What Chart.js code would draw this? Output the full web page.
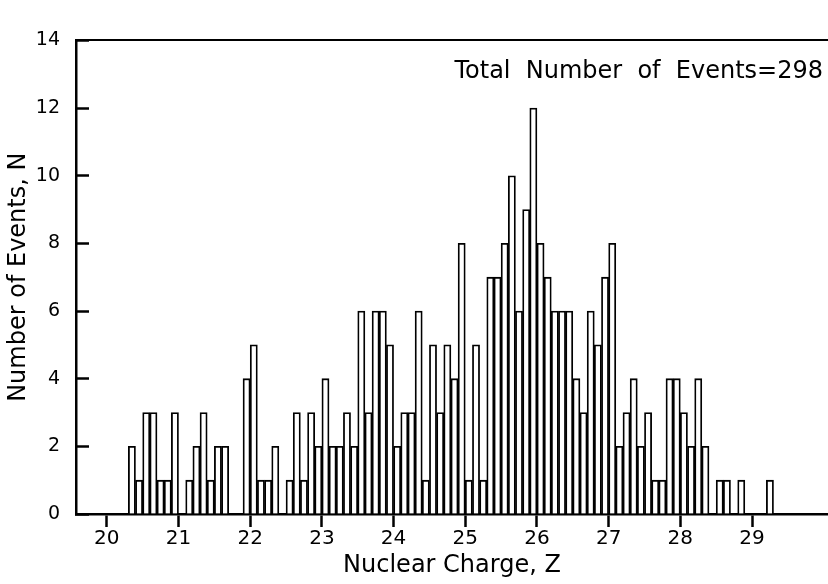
<!DOCTYPE html>
<html lang="en">
<head>
    <meta charset="UTF-8">
    <title>Nuclear Charge Histogram</title>
    <script src="https://cdn.jsdelivr.net/npm/chart.js"></script>
    <style>
        html, body { margin:0; padding:0; background:#fff; }
        #wrap { width:828px; height:584px; position:relative; }
    </style>
</head>
<body>

<div id="wrap">
    <canvas id="zChart"></canvas>
</div>

<script>
// lower edge of each 0.1-wide charge bin (empty bins left out)
const zLow = [
  20.3, 20.4, 20.5, 20.6, 20.7, 20.8, 20.9,
  21.1, 21.2, 21.3, 21.4, 21.5, 21.6,
  21.9,
  22.0, 22.1, 22.2, 22.3,
  22.5, 22.6, 22.7, 22.8, 22.9,
  23.0, 23.1, 23.2, 23.3, 23.4, 23.5, 23.6, 23.7, 23.8, 23.9,
  24.0, 24.1, 24.2, 24.3, 24.4, 24.5, 24.6, 24.7, 24.8, 24.9,
  25.0, 25.1, 25.2, 25.3, 25.4, 25.5, 25.6, 25.7, 25.8, 25.9,
  26.0, 26.1, 26.2, 26.3, 26.4, 26.5, 26.6, 26.7, 26.8, 26.9,
  27.0, 27.1, 27.2, 27.3, 27.4, 27.5, 27.6, 27.7, 27.8, 27.9,
  28.0, 28.1, 28.2, 28.3,
  28.5, 28.6,
  28.8,
  29.2
];
const events = [
  2, 1, 3, 3, 1, 1, 3,
  1, 2, 3, 1, 2, 2,
  4,
  5, 1, 1, 2,
  1, 3, 1, 3, 2,
  4, 2, 2, 3, 2, 6, 3, 6, 6, 5,
  2, 3, 3, 6, 1, 5, 3, 5, 4, 8,
  1, 5, 1, 7, 7, 8, 10, 6, 9, 12,
  8, 7, 6, 6, 6, 4, 3, 6, 5, 7,
  8, 2, 3, 4, 2, 3, 1, 1, 4, 4,
  3, 2, 4, 2,
  1, 1,
  1,
  1
];
const binWidth = 0.1;
const xTicks = [20, 21, 22, 23, 24, 25, 26, 27, 28, 29];
const noteText = 'Total  Number  of  Events=298';

Chart.defaults.font.family = "'DejaVu Sans', sans-serif";
Chart.defaults.color = '#000';

const points = zLow.map((z, i) => ({ x: z + binWidth / 2, y: events[i] }));

// text note inside the plot, upper right
const notePlugin = {
  id: 'note',
  afterDraw(chart) {
    const ctx = chart.ctx;
    const a = chart.chartArea;
    ctx.save();
    ctx.font = "24px 'DejaVu Sans'";
    ctx.fillStyle = '#000';
    ctx.textAlign = 'right';
    ctx.textBaseline = 'middle';
    ctx.fillText(noteText, a.right - 5, a.top + 31);
    ctx.restore();
  }
};

const config = {
  type: 'bar',
  data: {
    datasets: [{
      label: 'Events',
      data: points,
      backgroundColor: '#fff',
      borderColor: '#000',
      borderWidth: 1.8,
      borderSkipped: 'start',
      categoryPercentage: 1,
      barPercentage: 1
    }]
  },
  options: {
    responsive: true,
    maintainAspectRatio: false,
    animation: false,
    layout: { padding: 0 },
    plugins: {
      legend: { display: false },
      tooltip: { enabled: false }
    },
    scales: {
      x: {
        type: 'linear',
        position: 'bottom',
        min: 19.57,
        max: 30.06,
        offset: false,
        afterBuildTicks: (scale) => { scale.ticks = xTicks.map(v => ({ value: v })); },
        afterFit: (scale) => { scale.height = 70; },
        ticks: {
          autoSkip: false,
          maxRotation: 0,
          padding: 0,
          font: { size: 20 },
          color: '#000'
        },
        grid: {
          offset: false,
          drawOnChartArea: false,
          drawTicks: true,
          tickLength: 13,
          tickWidth: 2.5,
          tickColor: '#000'
        },
        border: { color: '#000', width: 2.5 },
        title: {
          display: true,
          text: 'Nuclear Charge, Z',
          font: { size: 24 },
          color: '#000',
          padding: { top: 0, bottom: 4 }
        }
      },
      xTop: {
        type: 'linear',
        position: 'top',
        display: true,
        min: 19.57,
        max: 30.06,
        afterFit: (scale) => { scale.height = 15; },
        ticks: { display: false },
        grid: { display: true, drawOnChartArea: false, drawTicks: false },
        border: { color: '#000', width: 2 }
      },
      y: {
        min: 0,
        max: 14,
        afterFit: (scale) => { scale.width = 76; },
        ticks: {
          stepSize: 2,
          padding: 29,
          font: { size: 19 },
          color: '#000'
        },
        grid: {
          drawOnChartArea: false,
          drawTicks: true,
          tickLength: -13,
          tickWidth: 2.5,
          tickColor: '#000'
        },
        border: { color: '#000', width: 2.5 },
        title: {
          display: true,
          text: 'Number of Events, N',
          font: { size: 24 },
          color: '#000',
          padding: { top: 4, bottom: 0 }
        }
      }
    }
  },
  plugins: [notePlugin]
};

var zChart = new Chart(document.getElementById('zChart'), config);
</script>

</body>
</html>
